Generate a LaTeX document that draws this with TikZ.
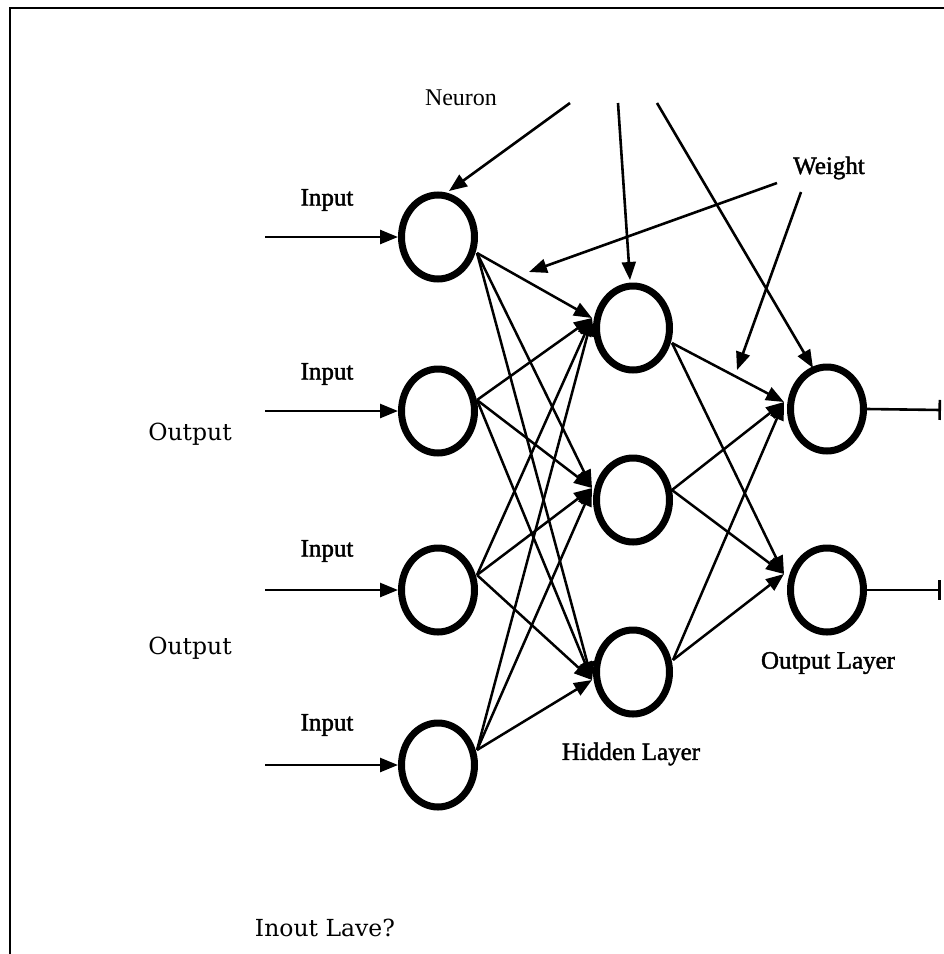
\documentclass[tikz,border=0pt]{standalone}
\usepackage{fontspec}
\setmainfont{Liberation Serif}
\newfontfamily\palfont{DejaVu Serif}
\newfontfamily\scanfont[FakeBold=1.6]{Liberation Serif}
\usetikzlibrary{arrows.meta,shapes.geometric}
\begin{document}
\begin{tikzpicture}[x=1pt,y=-1pt,
  neuron/.style={draw,ellipse,line width=7pt,minimum width=73pt,minimum height=84pt,inner sep=0pt},
  conn/.style={line width=2.5pt,-{Triangle[length=18pt,width=14pt]}},
  ann/.style={line width=2.6pt,-{Triangle[length=18pt,width=14pt]}},
  outarrow/.style={line width=2.6pt,-{Bar[width=20pt,line width=2.6pt]}},
  scanlbl/.style={font=\scanfont\fontsize{25}{28}\selectfont,inner sep=0pt},
  lbl/.style={font=\fontsize{24}{28}\selectfont,inner sep=0pt},
  pallbl/.style={font=\palfont\fontsize{23.5}{28}\selectfont,inner sep=0pt}]
\useasboundingbox (0,0) rectangle (944,954);
\fill[white] (0,0) rectangle (944,954);
\draw[line width=1.8pt] (10,954) -- (10,8) -- (944,8);

% neurons
\node[neuron] (i1) at (438,237) {};
\node[neuron] (i2) at (438,411) {};
\node[neuron] (i3) at (438,590) {};
\node[neuron] (i4) at (438,765) {};
\node[neuron] (h1) at (633,328) {};
\node[neuron] (h2) at (633,500) {};
\node[neuron] (h3) at (633,672) {};
\node[neuron] (o1) at (827,409) {};
\node[neuron] (o2) at (827,590) {};

% connection points
\coordinate (i1o) at (477,253);
\coordinate (i2o) at (477,400);
\coordinate (i3o) at (477,575);
\coordinate (i4o) at (477,750);
\coordinate (h1i) at (592,318);
\coordinate (h2i) at (592,488);
\coordinate (h3i) at (592,680);
\coordinate (h1o) at (672,343);
\coordinate (h2o) at (672,490);
\coordinate (h3o) at (673,660);
\coordinate (o1i) at (784,402);
\coordinate (o2i) at (784,574);

\foreach \a in {i1o,i2o,i3o,i4o}{
  \foreach \b in {h1i,h2i,h3i}{
    \draw[conn] (\a) -- (\b);
  }
}
\foreach \a in {h1o,h2o,h3o}{
  \foreach \b in {o1i,o2i}{
    \draw[conn] (\a) -- (\b);
  }
}

% input arrows
\foreach \n/\y in {1/237,2/411,3/590,4/765}{
  \coordinate (in\n) at (265,\y);
  \draw[ann] (in\n) -- (i\n.west);
}
% output arrows
\coordinate (out1) at (941,410);
\coordinate (out2) at (941,590);
\draw[outarrow] (o1.east) -- (out1);
\draw[outarrow] (o2.east) -- (out2);

% annotation arrows
\coordinate (n1) at (570,103);
\coordinate (n2) at (618,103);
\coordinate (n3) at (657,103);
\coordinate (n1t) at (449,191);
\coordinate (n2t) at (630,280);
\coordinate (n3t) at (813,368);
\draw[ann] (n1) -- (n1t);
\draw[ann] (n2) -- (n2t);
\draw[ann] (n3) -- (n3t);
\coordinate (w1) at (777,183);
\coordinate (w2) at (801,192);
\coordinate (w1t) at (529,272);
\coordinate (w2t) at (737,370);
\draw[ann] (w1) -- (w1t);
\draw[ann] (w2) -- (w2t);

% labels
\node[lbl] (neuron) at (461,98) {Neuron};
\node[scanlbl] (weight) at (829,168) {Weight};
\node[scanlbl] (inp1) at (327,200) {Input};
\node[scanlbl] (inp2) at (327,374) {Input};
\node[scanlbl] (inp3) at (327,551) {Input};
\node[scanlbl] (inp4) at (327,725) {Input};
\node[pallbl] (outp1) at (190,434) {Output};
\node[pallbl] (outp2) at (190,648) {Output};
\node[scanlbl] (hidden) at (631,754) {Hidden Layer};
\node[scanlbl] (outlayer) at (828,663) {Output Layer};
\node[pallbl] (inlayer) at (325,928) {Inout Lave?};
\end{tikzpicture}
\end{document}
